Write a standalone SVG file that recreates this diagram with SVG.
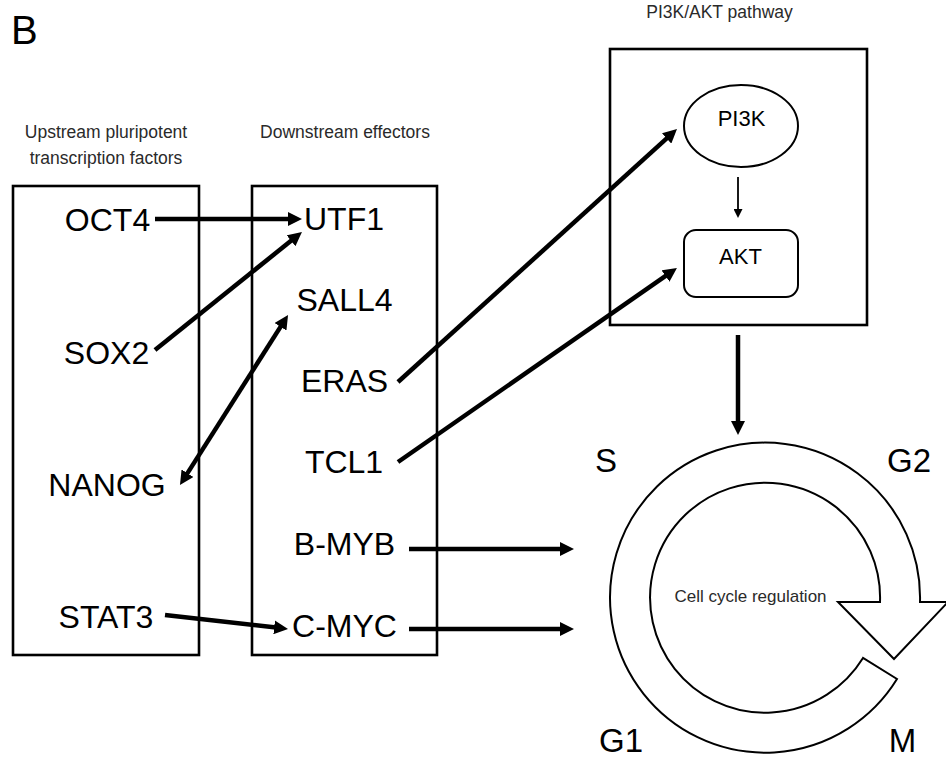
<svg xmlns="http://www.w3.org/2000/svg" width="946" height="758" viewBox="0 0 946 758">
<defs>
<style>
text{font-family:"Liberation Sans",Arial,sans-serif;}
.big{font-size:32px;fill:#000;text-anchor:middle;}
.phase{font-size:33px;fill:#000;text-anchor:middle;}
.small{font-size:17.5px;fill:#2a2a2a;text-anchor:middle;}
.inner{font-size:22px;fill:#000;text-anchor:middle;}
.box{fill:none;stroke:#000;stroke-width:2.6;}
.shape{fill:#fff;stroke:#000;stroke-width:2;}
.conn{stroke:#000;stroke-width:4.5;fill:none;marker-end:url(#ah);}
.thin{stroke:#000;stroke-width:1.8;fill:none;marker-end:url(#ahs);}
</style>
<marker id="ah" markerUnits="userSpaceOnUse" viewBox="0 0 14 14" refX="2" refY="7" markerWidth="14" markerHeight="14" orient="auto-start-reverse">
<path d="M0,0 L14,7 L0,14 Z" fill="#000"/>
</marker>
<marker id="ahs" markerUnits="userSpaceOnUse" viewBox="0 0 9 9" refX="1" refY="4.5" markerWidth="9" markerHeight="9" orient="auto">
<path d="M0,0 L9,4.5 L0,9 Z" fill="#000"/>
</marker>
</defs>
<rect width="946" height="758" fill="#fff"/>

<text x="11" y="44" style="font-size:40px;fill:#000">B</text>

<g id="upstream-box">
<text class="small" x="106" y="138">Upstream pluripotent</text>
<text class="small" x="106" y="164">transcription factors</text>
<rect class="box" x="13" y="186" width="186" height="469"/>
</g>
<g id="downstream-box">
<text class="small" x="345" y="138">Downstream effectors</text>
<rect class="box" x="252" y="186" width="185" height="469"/>
</g>
<g id="pathway-box">
<text class="small" x="719.5" y="18">PI3K/AKT pathway</text>
<rect class="box" x="610" y="49" width="257" height="276"/>
</g>

<g id="OCT4"><text class="big" x="107.5" y="231">OCT4</text></g>
<g id="SOX2"><text class="big" x="106.5" y="364">SOX2</text></g>
<g id="NANOG"><text class="big" x="107" y="496">NANOG</text></g>
<g id="STAT3"><text class="big" x="106" y="628">STAT3</text></g>

<g id="UTF1"><text class="big" x="344" y="230">UTF1</text></g>
<g id="SALL4"><text class="big" x="344.5" y="311">SALL4</text></g>
<g id="ERAS"><text class="big" x="344.5" y="392">ERAS</text></g>
<g id="TCL1"><text class="big" x="344" y="473">TCL1</text></g>
<g id="B-MYB"><text class="big" x="344.5" y="555">B-MYB</text></g>
<g id="C-MYC"><text class="big" x="344.5" y="637">C-MYC</text></g>

<g id="PI3K">
<ellipse class="shape" cx="741" cy="126" rx="57" ry="41"/>
<text class="inner" x="741.5" y="126">PI3K</text>
</g>
<g id="AKT">
<rect class="shape" x="684" y="230" width="114" height="67" rx="12" ry="12"/>
<text class="inner" x="740.5" y="264">AKT</text>
</g>

<g id="cell-cycle">
<path class="shape" d="M838,602 L880,602 A115,115 0 1 0 863,658 L897,679 A155,155 0 1 1 920,602 L948,602 L894,659 Z"/>
<text x="750.5" y="602" style="font-size:17px;fill:#2a2a2a;text-anchor:middle">Cell cycle regulation</text>
<text class="phase" x="606" y="472">S</text>
<text class="phase" x="909" y="472">G2</text>
<text class="phase" x="621" y="752">G1</text>
<text class="phase" x="902.5" y="752">M</text>
</g>

<g id="connectors">
<line class="conn" x1="155" y1="219" x2="290" y2="219"/>
<line class="conn" x1="155" y1="350" x2="292.6" y2="239.5"/>
<line class="conn" x1="186.4" y1="474.9" x2="281.6" y2="325.1" style="marker-start:url(#ah)"/>
<line class="conn" x1="398" y1="382" x2="668.1" y2="137.1"/>
<line class="conn" x1="398" y1="462" x2="667.1" y2="274.9"/>
<line class="conn" x1="165" y1="615" x2="276.1" y2="627.6"/>
<line class="conn" x1="409" y1="549" x2="562" y2="549"/>
<line class="conn" x1="409" y1="629" x2="562" y2="629"/>
<line class="thin" x1="738" y1="177" x2="738" y2="210"/>
<line class="conn" x1="738" y1="335" x2="738" y2="423"/>
</g>
</svg>
